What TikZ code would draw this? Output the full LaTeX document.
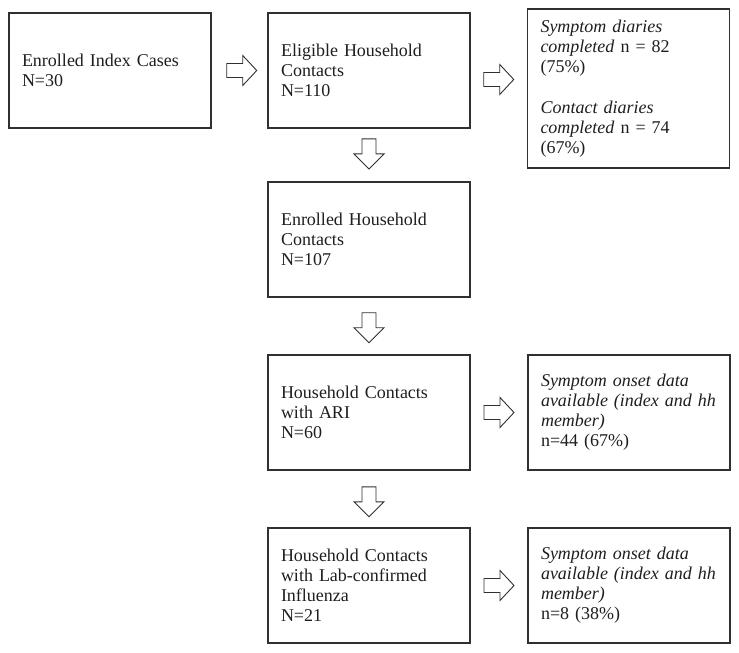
\documentclass[tikz,border=0pt]{standalone}
\usepackage{fontspec}
\setmainfont{Liberation Serif}
\usetikzlibrary{calc}
\definecolor{ln}{HTML}{303030}
\definecolor{tx}{HTML}{1E1E1E}
\tikzset{
  box/.style={draw=ln, line width=1.1pt, rectangle, minimum width=202pt, minimum height=115pt,
    inner xsep=13pt, inner ysep=0pt, text width=176pt, align=left, text=tx,
    font=\fontsize{18}{20}\selectfont},
  blk/.style={draw=ln, line width=0.9pt, fill=white, line join=miter},
  rarr/.pic={\draw[blk] (-15,-7) -- (1,-7) -- (1,-15) -- (15,0) -- (1,15) -- (1,7) -- (-15,7) -- cycle;},
  darr/.pic={\draw[blk] (-7,-15) -- (-7,0) -- (-15,0) -- (0,15) -- (15,0) -- (7,0) -- (7,-15) -- cycle;}
}
\begin{document}
\begin{tikzpicture}[x=1pt,y=-1pt]
\useasboundingbox (0,0) rectangle (739,653);
\node[box] (A) at (110,70.5) {Enrolled Index Cases\\N=30};
\node[box] (B) at (369,70.5) {Eligible Household\\Contacts\\N=110};
\node[box, minimum height=159pt] (C) at (628.5,88.5) {\textit{Symptom diaries}\\\textit{completed} n = 82\\(75\%)\\[21pt]\textit{Contact diaries}\\\textit{completed} n = 74\\(67\%)};
\node[box] (D) at (369,239.5) {Enrolled Household\\Contacts\\N=107};
\node[box] (E) at (369,412.5) {Household Contacts\\with ARI\\N=60};
\node[box] (F) at (629,412.5) {\textit{Symptom onset data}\\\textit{available (index and hh}\\\textit{member)}\\n=44 (67\%)};
\node[box] (G) at (369,585.5) {Household Contacts\\with Lab-confirmed\\Influenza\\N=21};
\node[box] (H) at (629,585.5) {\textit{Symptom onset data}\\\textit{available (index and hh}\\\textit{member)}\\n=8 (38\%)};
\pic at ($(A.east)!0.54!(B.west)$) {rarr};
\pic at ($(B.east)!0.5!(C.west)$) {rarr};
\pic at ($(E.east)!0.5!(F.west)$) {rarr};
\pic at ($(G.east)!0.5!(H.west)$) {rarr};
\pic at ($(B.south)!0.48!(D.north)$) {darr};
\pic at ($(D.south)!0.53!(E.north)$) {darr};
\pic at ($(E.south)!0.55!(G.north)$) {darr};
\end{tikzpicture}
\end{document}
